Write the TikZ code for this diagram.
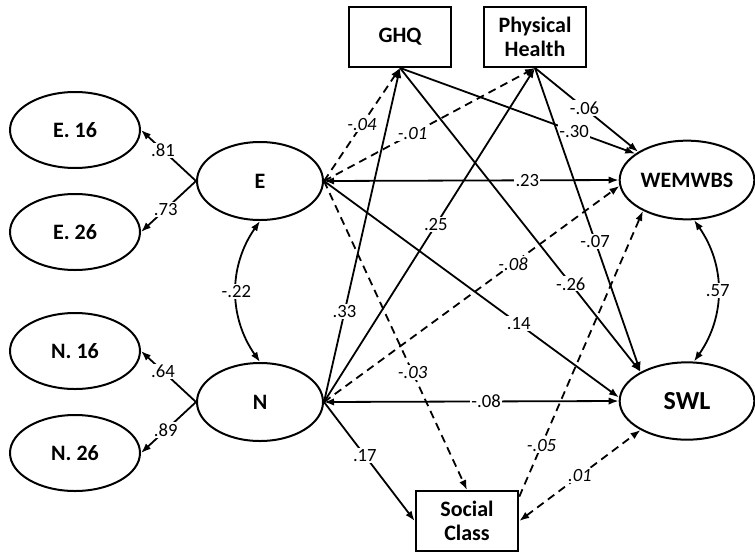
\documentclass[tikz,border=0pt]{standalone}
\usepackage{fontspec}
\setmainfont{Carlito}
\usetikzlibrary{shapes.geometric,arrows.meta}

\begin{document}
\begin{tikzpicture}[x=0.75pt,y=0.75pt,yscale=-1,xscale=1,
    latent/.style={draw,ellipse,line width=1.5pt,minimum width=97.5pt,minimum height=57pt,inner sep=0pt,font=\fontsize{16.5}{19}\selectfont\bfseries},
    measured/.style={draw,rectangle,line width=1.4pt,minimum width=77pt,minimum height=45pt,inner sep=0pt,align=center,font=\fontsize{16.5}{18}\selectfont\bfseries},
    effect/.style={line width=1.35pt,-{Latex[length=7.5pt,width=5.5pt]}},
    mutual/.style={line width=1.35pt,{Latex[length=7.5pt,width=5.5pt]}-{Latex[length=7.5pt,width=5.5pt]}},
    weak/.style={dash pattern=on 6pt off 4pt},
    coef/.style={fill=white,inner sep=1pt,font=\fontsize{14}{16}\selectfont},
    icoef/.style={coef,font=\fontsize{14}{16}\selectfont\itshape}]

        \useasboundingbox (0,0) rectangle (755,553);

        %Shape: Ellipse [indicators]
        \node[latent] (E16) at (75,130) {E. 16};
        \node[latent] (E26) at (75,232) {E. 26};
        \node[latent] (N16) at (75,351) {N. 16};
        \node[latent] (N26) at (75,453) {N. 26};
        %Shape: Ellipse [traits]
        \node[latent,minimum width=94.5pt,minimum height=58.5pt] (E) at (260,181) {E};
        \node[latent,minimum width=94.5pt,minimum height=58.5pt] (N) at (260,402) {N};
        %Shape: Ellipse [outcomes]
        \node[latent,minimum width=101pt,minimum height=59pt] (WEMWBS) at (687,180) {WEMWBS};
        \node[latent,minimum width=101pt,minimum height=58pt,font=\fontsize{19.5}{22}\selectfont\bfseries] (SWL) at (687,401) {SWL};
        %Shape: Rectangle
        \node[measured] (GHQ) at (400,37) {GHQ};
        \node[measured] (PH) at (535,37) {Physical\\Health};
        \node[measured] (SC) at (467,521) {Social\\Class};

        %Straight Lines [loadings]
        \draw[effect] (E.west) -- node[coef,pos=0.6] {.81} (E16.east);
        \draw[effect] (E.west) -- node[coef,pos=0.55] {.73} (E26.east);
        \draw[effect] (N.west) -- node[coef,pos=0.6] {.64} (N16.east);
        \draw[effect] (N.west) -- node[coef,pos=0.55] {.89} (N26.east);

        %Curve Lines [correlations]
        \draw[mutual] (E.south) to[bend left=35] node[coef] {-.22} (N.north);
        \draw[mutual] (WEMWBS.280) to[bend right=35] node[coef] {.57} (SWL.80);

        %Straight Lines [from E]
        \draw[effect,weak] (E.east) -- node[icoef,pos=0.5] {-.04} (GHQ.south);
        \draw[effect,weak] (E.east) -- node[icoef,pos=0.42] {-.01} (PH.south);
        \draw[mutual] (E.east) -- node[coef,pos=0.69] {.23} (WEMWBS.west);
        \draw[effect] (E.east) -- node[coef,pos=0.66] {.14} (SWL.177);
        \draw[effect,weak] (E.east) -- node[icoef,pos=0.62] {-.03} (SC.north);

        %Straight Lines [from N]
        \draw[effect] (N.east) -- node[coef,pos=0.27] {.33} (GHQ.south);
        \draw[effect] (N.east) -- node[coef,pos=0.53] {.25} (PH.south);
        \draw[effect,weak] (N.east) -- node[icoef,pos=0.64] {-.08} (WEMWBS.185);
        \draw[mutual] (N.east) -- node[coef,pos=0.55] {-.08} (SWL.west);
        \draw[effect] (N.east) -- node[coef,pos=0.45] {.17} (SC.west);

        %Straight Lines [from GHQ and Physical Health]
        \draw[effect] (GHQ.south) -- node[coef,pos=0.74] {-.30} (WEMWBS.153);
        \draw[effect] (PH.south) -- node[coef,pos=0.48] {-.06} (WEMWBS.150);
        \draw[effect] (GHQ.south) -- node[coef,pos=0.71] {-.26} (SWL.148);
        \draw[effect] (PH.south) -- node[coef,pos=0.57] {-.07} (SWL.148);

        %Straight Lines [from Social Class]
        \draw[effect,weak] (SC.25) -- node[icoef,pos=0.18] {-.05} (WEMWBS.215);
        \draw[mutual,weak] (SC.east) -- node[icoef,pos=0.5] {.01} (SWL.212);

\end{tikzpicture}
\end{document}
